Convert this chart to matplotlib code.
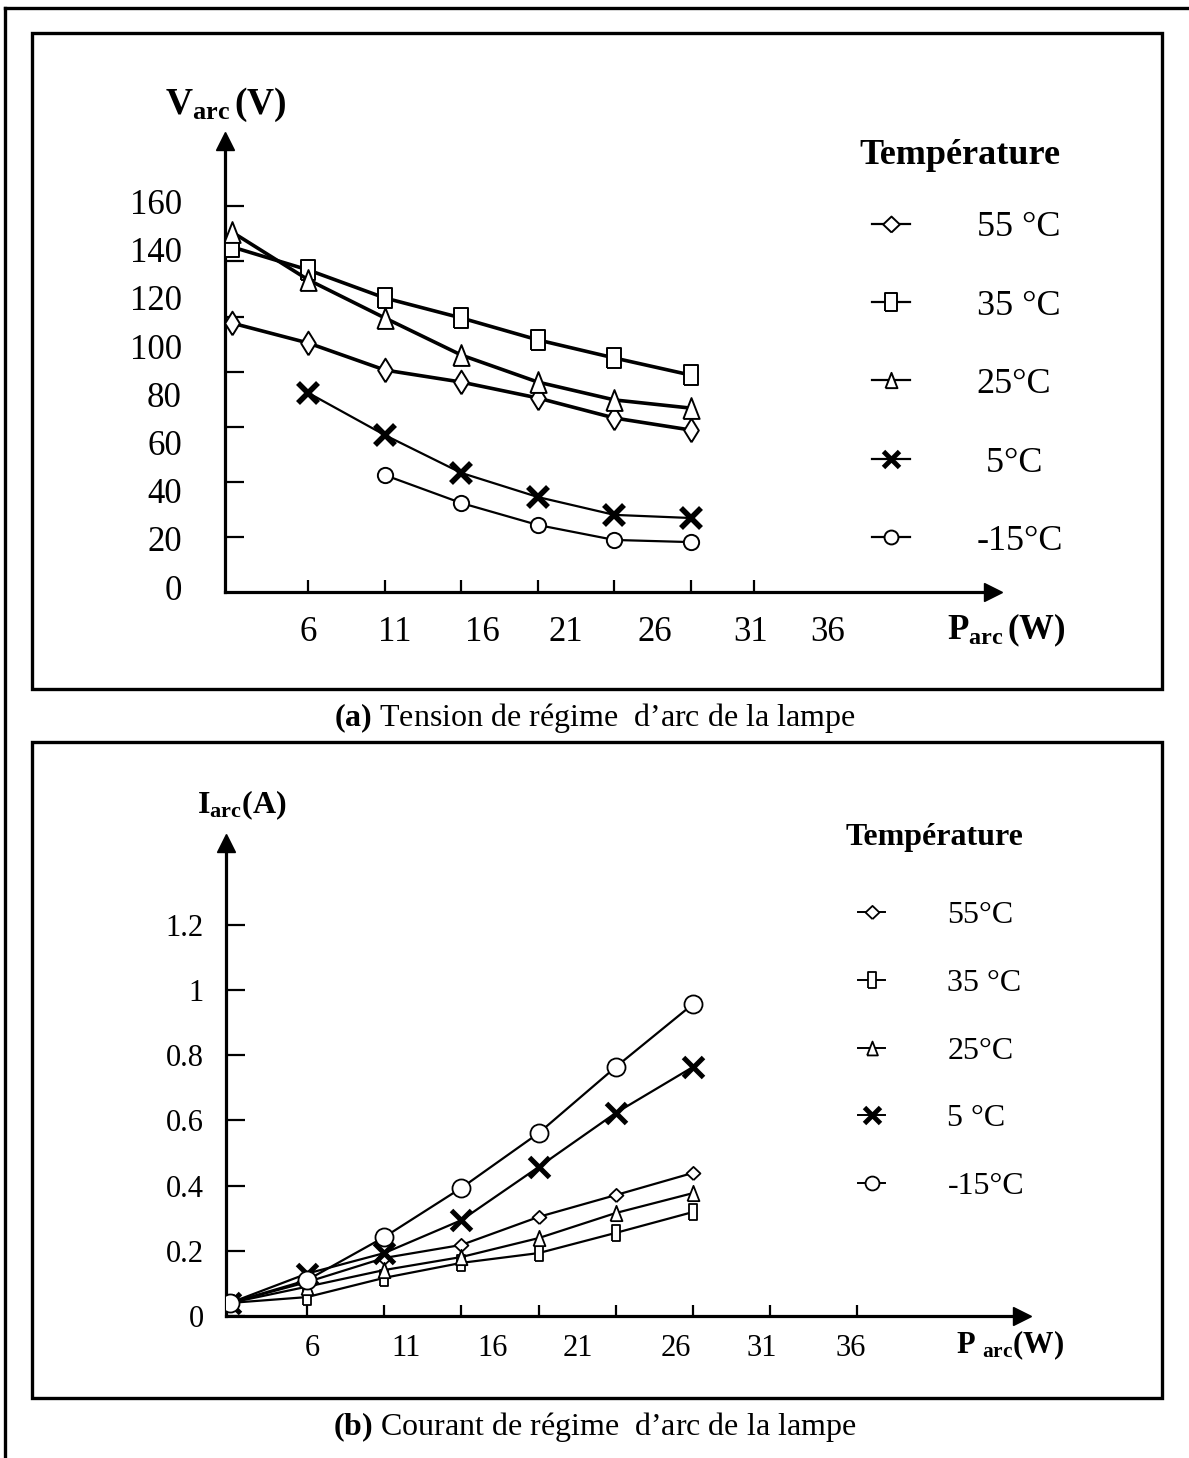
import matplotlib
matplotlib.use('Agg')
import matplotlib.pyplot as plt
import numpy as np
from matplotlib.lines import Line2D
from matplotlib.patches import Rectangle

plt.rcParams['font.family'] = ['Liberation Serif', 'DejaVu Serif']
plt.rcParams['mathtext.fontset'] = 'custom'
plt.rcParams['mathtext.rm'] = 'Liberation Serif'
plt.rcParams['mathtext.bf'] = 'Liberation Serif:bold'
plt.rcParams['mathtext.it'] = 'Liberation Serif:italic'

W, H = 1189, 1458

# ---------------- data ----------------
p_arc = [1, 6, 11, 16, 21, 26, 31]          # W
temp_labels_a = ['55 °C', '35 °C', '25°C', ' 5°C', '-15°C']
temp_labels_b = ['55°C', '35 °C', '25°C', '5 °C', '-15°C']

# (a) arc voltage (V)
v_55 = [111.6, 103.3, 92.1, 87.1, 80.5, 72.2, 67.2]
v_35 = [143.2, 133.6, 122.0, 113.7, 104.6, 97.1, 90.0]
v_25 = [149.4, 129.5, 113.7, 98.3, 87.1, 79.7, 76.3]
v_5 = [82.6, 65.1, 49.4, 39.4, 32.0, 30.7]        # starts at 6 W
v_m15 = [48.5, 36.9, 27.8, 21.6, 20.7]            # starts at 11 W

# (b) arc current (A)
i_55 = [0.04, 0.104, 0.178, 0.218, 0.304, 0.371, 0.439]
i_35 = [0.04, 0.058, 0.117, 0.163, 0.193, 0.255, 0.319]
i_25 = [0.04, 0.090, 0.141, 0.181, 0.239, 0.316, 0.377]
i_5 = [0.04, 0.130, 0.193, 0.294, 0.457, 0.623, 0.764]
i_m15 = [0.04, 0.110, 0.242, 0.393, 0.561, 0.764, 0.957]

yticklabels_a = ['0', '20', '40', '60', '80', '100', '120', '140', '160']
xticklabels = ['6', '11', '16', '21', '26', '31', '36']
yticklabels_b = ['0', '0.2', '0.4', '0.6', '0.8', '1', '1.2']

# ---------------- layout helpers ----------------
def fx(px):
    return px / W

def fy(py):
    return 1 - py / H

fig = plt.figure(figsize=(W / 100, H / 100), dpi=100)
fig.patch.set_facecolor('white')

# outer frame (left + top lines) and panel boxes
fig.add_artist(Line2D([fx(5), fx(5)], [fy(8), fy(H + 5)], color='black', lw=2.4,
                      transform=fig.transFigure))
fig.add_artist(Line2D([fx(5), fx(W + 5)], [fy(8), fy(8)], color='black', lw=2.4,
                      transform=fig.transFigure))
for top, bot in [(33, 689), (742, 1398)]:
    fig.add_artist(Rectangle((fx(32), fy(bot)), fx(1162) - fx(32), fy(top) - fy(bot),
                             fill=False, ec='black', lw=2.4, transform=fig.transFigure))

# marker shapes
m_diam_tall = [(0, -1), (0.62, 0), (0, 1), (-0.62, 0), (0, -1)]
m_diam_fat = [(0, -1), (1.05, 0), (0, 1), (-1.05, 0), (0, -1)]
m_rect = [(-0.68, -1), (0.68, -1), (0.68, 1), (-0.68, 1), (-0.68, -1)]
m_rect_thin = [(-0.55, -1), (0.55, -1), (0.55, 1), (-0.55, 1), (-0.55, -1)]
m_tri = [(-0.78, -1), (0.78, -1), (0, 1), (-0.78, -1)]


def style_axes(ax):
    for s in ['top', 'right']:
        ax.spines[s].set_visible(False)
    for s in ['left', 'bottom']:
        ax.spines[s].set_linewidth(2.3)
    ax.set_facecolor('none')
    ax.xaxis.remove_overlapping_locs = False
    ax.yaxis.remove_overlapping_locs = False
    # arrow heads
    ax.plot(0, 1, marker='^', color='black', ms=13, transform=ax.transAxes, clip_on=False)
    ax.plot(1, 0, marker='>', color='black', ms=13, transform=ax.transAxes, clip_on=False)


# ================= (a) =================
x0a, y0a = 225, 592
sxa, sya = 15.3, 2.41           # px per W, px per V
xmin_a = 0.55
xmax_a = xmin_a + (993 - x0a) / sxa
ymax_a = (y0a - 141) / sya
axa = fig.add_axes([fx(x0a), fy(y0a), fx(993) - fx(x0a), fy(141) - fy(y0a)])
axa.set_xlim(xmin_a, xmax_a)
axa.set_ylim(0, ymax_a)
style_axes(axa)

lw_thick, lw_thin = 2.6, 1.6
axa.plot(p_arc, v_55, color='k', lw=lw_thick, marker=m_diam_tall, ms=17, mfc='white', mec='k', mew=1.4, zorder=3)
axa.plot(p_arc, v_35, color='k', lw=lw_thick, marker=m_rect, ms=15, mfc='white', mec='k', mew=1.4, zorder=3)
axa.plot(p_arc, v_25, color='k', lw=lw_thick, marker=m_tri, ms=15, mfc='white', mec='k', mew=1.4, zorder=3)
axa.plot(p_arc[1:], v_5, color='k', lw=lw_thin, marker='x', ms=14, mew=4.0, zorder=3)
axa.plot(p_arc[2:], v_m15, color='k', lw=lw_thin, marker='o', ms=11, mfc='white', mec='k', mew=1.4, zorder=3)

# tick marks (drawn positions) and labels
axa.set_yticks(np.linspace(160, 0, 8)[:-1])
axa.set_yticklabels([])
axa.tick_params(axis='y', which='major', direction='in', length=14, width=1.6)
ylab_pos_a = [2, 22, 42, 62, 82, 102, 122, 142, 162]
axa.set_yticks(ylab_pos_a, yticklabels_a, minor=True)
axa.tick_params(axis='y', which='minor', length=0, pad=31, labelsize=25)
axa.set_xticks([6, 11, 16, 21, 26, 31, 35.1])
axa.set_xticklabels([])
axa.tick_params(axis='x', which='major', direction='in', length=9, width=1.6)
xlab_pos_a = [6.0, 11.65, 17.4, 22.8, 28.65, 34.9, 39.95]
axa.set_xticks(xlab_pos_a, xticklabels, minor=True)
axa.tick_params(axis='x', which='minor', length=0, pad=17, labelsize=25)

fig.text(fx(226), fy(105), r'$\mathbf{V_{arc}}$' + r'$\,\mathbf{(V)}$', ha='center', va='center', fontsize=27)
fig.text(fx(1006), fy(630), r'$\mathbf{P_{arc}}$' + r'$\,\mathbf{(W)}$', ha='center', va='center', fontsize=25)

handles_a = [
    Line2D([], [], color='k', lw=1.6, marker=m_diam_fat, ms=12, mfc='white', mec='k', mew=1.4),
    Line2D([], [], color='k', lw=1.6, marker=m_rect, ms=13, mfc='white', mec='k', mew=1.4),
    Line2D([], [], color='k', lw=1.6, marker=m_tri, ms=11, mfc='white', mec='k', mew=1.4),
    Line2D([], [], color='k', lw=1.6, marker='x', ms=12, mew=3.5),
    Line2D([], [], color='k', lw=1.6, marker='o', ms=10, mfc='white', mec='k', mew=1.4),
]
leg_a = axa.legend(handles_a, temp_labels_a, loc='upper left',
                   bbox_to_anchor=(fx(872), fy(211)), bbox_transform=fig.transFigure,
                   frameon=False, fontsize=26, labelspacing=1.25, handlelength=1.05,
                   handletextpad=1.85, borderpad=0, borderaxespad=0)
fig.text(fx(960), fy(155), 'Température', ha='center', va='center', fontsize=26, fontweight='bold')

fig.text(0.5, fy(718), r'$\mathbf{(a)}$ Tension de régime  d’arc de la lampe',
         ha='center', va='center', fontsize=23)

# ================= (b) =================
x0b, y0b = 226, 1316
sxb, syb = 15.44, 326.0
xorig_b = 214.4
xmin_b = (x0b - xorig_b) / sxb
xmax_b = (1022 - xorig_b) / sxb
ymax_b = (y0b - 843) / syb
axb = fig.add_axes([fx(x0b), fy(y0b), fx(1022) - fx(x0b), fy(843) - fy(y0b)])
axb.set_xlim(xmin_b, xmax_b)
axb.set_ylim(0, ymax_b)
style_axes(axb)

lw_b = 1.6
axb.plot(p_arc, i_55, color='k', lw=lw_b, marker=m_diam_fat, ms=10, mfc='white', mec='k', mew=1.3, zorder=3)
axb.plot(p_arc, i_35, color='k', lw=lw_b, marker=m_rect_thin, ms=11, mfc='white', mec='k', mew=1.3, zorder=3)
axb.plot(p_arc, i_25, color='k', lw=lw_b, marker=m_tri, ms=11, mfc='white', mec='k', mew=1.3, zorder=3)
axb.plot(p_arc, i_5, color='k', lw=lw_b, marker='x', ms=14, mew=3.6, zorder=3)
axb.plot(p_arc, i_m15, color='k', lw=lw_b, marker='o', ms=13, mfc='white', mec='k', mew=1.3, zorder=3)

axb.set_yticks([0, 0.2, 0.4, 0.6, 0.8, 1.0, 1.2], yticklabels_b)
axb.tick_params(axis='y', which='major', direction='in', length=14, width=1.6, pad=16, labelsize=22)
axb.set_xticks([6, 11, 16, 21, 26, 31, 36, 41.6])
axb.set_xticklabels([])
axb.tick_params(axis='x', which='major', direction='in', length=8, width=1.6)
xlab_pos_b = [6.32, 12.41, 18.04, 23.55, 29.9, 35.47, 41.2]
axb.set_xticks(xlab_pos_b, xticklabels, minor=True)
axb.tick_params(axis='x', which='minor', length=0, pad=13, labelsize=22)

fig.text(fx(242), fy(805), r'$\mathbf{I_{arc}(A)}$', ha='center', va='center', fontsize=23)
fig.text(fx(1010), fy(1345), r'$\mathbf{P\ _{arc}(W)}$', ha='center', va='center', fontsize=22)

handles_b = [
    Line2D([], [], color='k', lw=1.4, marker=m_diam_fat, ms=10, mfc='white', mec='k', mew=1.3),
    Line2D([], [], color='k', lw=1.4, marker=m_rect_thin, ms=11, mfc='white', mec='k', mew=1.3),
    Line2D([], [], color='k', lw=1.4, marker=m_tri, ms=10, mfc='white', mec='k', mew=1.3),
    Line2D([], [], color='k', lw=1.4, marker='x', ms=12, mew=3.5),
    Line2D([], [], color='k', lw=1.4, marker='o', ms=10, mfc='white', mec='k', mew=1.3),
]
leg_b = axb.legend(handles_b, temp_labels_b, loc='upper left',
                   bbox_to_anchor=(fx(858), fy(901)), bbox_transform=fig.transFigure,
                   frameon=False, fontsize=23, labelspacing=1.2, handlelength=0.85,
                   handletextpad=1.95, borderpad=0, borderaxespad=0)
fig.text(fx(935), fy(837), 'Température', ha='center', va='center', fontsize=23, fontweight='bold')

fig.text(0.5, fy(1427), r'$\mathbf{(b)}$ Courant de régime  d’arc de la lampe',
         ha='center', va='center', fontsize=23)

fig.savefig('out.png', dpi=100, facecolor='white')
